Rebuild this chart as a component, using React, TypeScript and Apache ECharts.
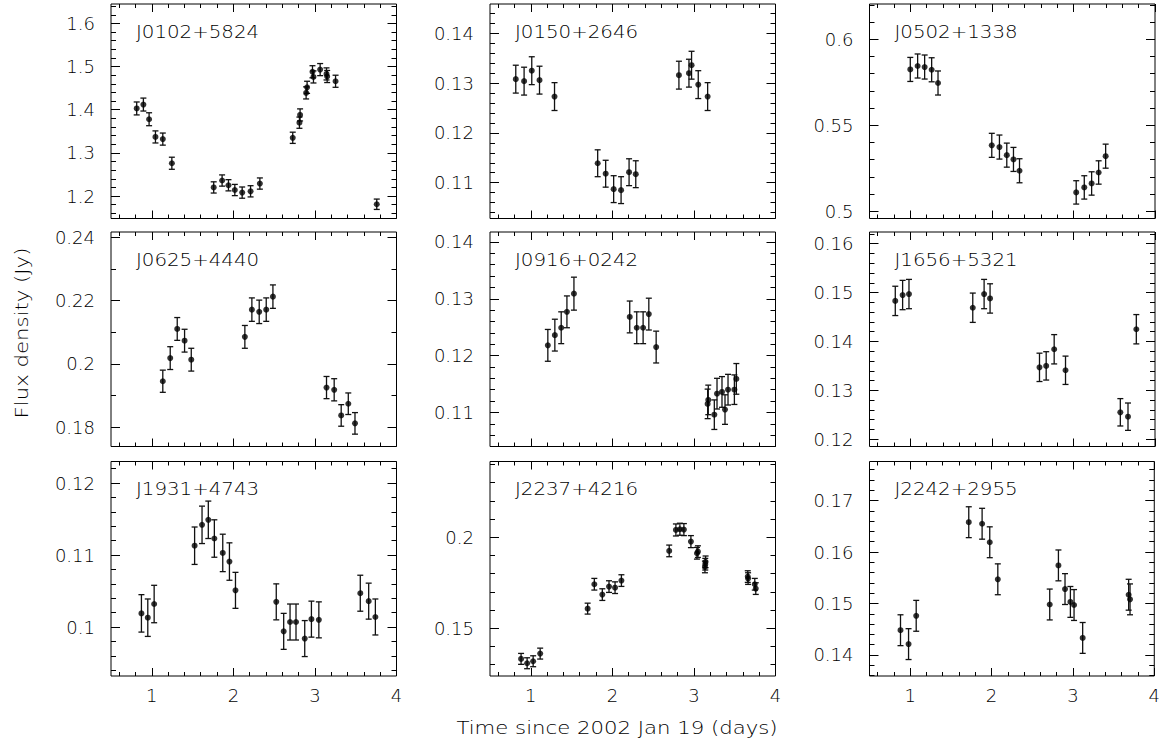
import React, { useEffect, useRef } from "react";
import * as echarts from "echarts";

// ---------- data ----------
const names = [
  "J0102+5824", "J0150+2646", "J0502+1338",
  "J0625+4440", "J0916+0242", "J1656+5321",
  "J1931+4743", "J2237+4216", "J2242+2955",
];

const xTicks = [1, 2, 3, 4];
const xRange = [0.5, 4];

const t0102 = [0.815, 0.897, 0.967, 1.045, 1.135, 1.246, 1.759, 1.862, 1.94, 2.018, 2.108, 2.211, 2.325, 2.728, 2.81, 2.818, 2.892, 2.904, 2.97, 2.982, 3.064, 3.142, 3.15, 3.253, 3.758];
const f0102 = [1.403, 1.412, 1.378, 1.337, 1.332, 1.276, 1.22, 1.236, 1.225, 1.214, 1.208, 1.211, 1.229, 1.335, 1.37, 1.388, 1.439, 1.452, 1.488, 1.476, 1.493, 1.483, 1.477, 1.466, 1.181];
const e0102 = [0.015, 0.015, 0.015, 0.014, 0.014, 0.014, 0.013, 0.013, 0.013, 0.013, 0.013, 0.013, 0.013, 0.013, 0.013, 0.014, 0.014, 0.014, 0.014, 0.014, 0.014, 0.014, 0.014, 0.014, 0.012];

const t0150 = [0.816, 0.918, 1.012, 1.107, 1.291, 1.82, 1.918, 2.016, 2.107, 2.205, 2.287, 2.816, 2.939, 2.971, 3.053, 3.168];
const f0150 = [0.1308, 0.1304, 0.1325, 0.1306, 0.1273, 0.1139, 0.1118, 0.1087, 0.1085, 0.1121, 0.1117, 0.1316, 0.132, 0.1336, 0.1297, 0.1273];
const e0150 = [0.0028, 0.0028, 0.0028, 0.0028, 0.0028, 0.0027, 0.0027, 0.0027, 0.0027, 0.0027, 0.0027, 0.0028, 0.0028, 0.0028, 0.0028, 0.0028];

const t0502 = [1.0, 1.09, 1.176, 1.262, 1.34, 1.999, 2.093, 2.183, 2.265, 2.339, 3.034, 3.133, 3.223, 3.309, 3.395];
const f0502 = [0.5825, 0.5845, 0.5839, 0.5823, 0.5746, 0.5383, 0.5373, 0.5326, 0.5301, 0.5235, 0.5109, 0.5138, 0.5161, 0.5225, 0.532];
const e0502 = [0.007, 0.007, 0.007, 0.007, 0.007, 0.007, 0.007, 0.007, 0.007, 0.007, 0.0068, 0.0068, 0.0068, 0.0068, 0.007];

const t0625 = [1.135, 1.226, 1.312, 1.402, 1.484, 2.141, 2.227, 2.317, 2.403, 2.485, 3.142, 3.236, 3.322, 3.409, 3.491];
const f0625 = [0.1945, 0.2018, 0.211, 0.2073, 0.2013, 0.2085, 0.2171, 0.2164, 0.2171, 0.2212, 0.1925, 0.1918, 0.1837, 0.1874, 0.1812];
const e0625 = [0.0035, 0.0036, 0.0036, 0.0036, 0.0036, 0.0036, 0.0037, 0.0037, 0.0037, 0.0037, 0.0035, 0.0035, 0.0034, 0.0034, 0.0034];

const t0916 = [1.209, 1.295, 1.373, 1.443, 1.529, 2.213, 2.299, 2.377, 2.447, 2.537, 3.168, 3.176, 3.25, 3.283, 3.344, 3.381, 3.418, 3.496, 3.52];
const f0916 = [0.1218, 0.1236, 0.1249, 0.1277, 0.1309, 0.1268, 0.1249, 0.1249, 0.1273, 0.1215, 0.1115, 0.1122, 0.1096, 0.1133, 0.1136, 0.1105, 0.114, 0.114, 0.1159];
const e0916 = [0.0028, 0.0028, 0.0028, 0.0028, 0.0029, 0.0028, 0.0028, 0.0028, 0.0028, 0.0028, 0.0026, 0.0026, 0.0026, 0.0027, 0.0027, 0.0026, 0.0027, 0.0026, 0.0027];

const t1656 = [0.816, 0.906, 0.984, 1.766, 1.905, 1.978, 2.584, 2.666, 2.764, 2.903, 3.575, 3.669, 3.771];
const f1656 = [0.1483, 0.1495, 0.1497, 0.1469, 0.1497, 0.1488, 0.1347, 0.135, 0.1384, 0.1341, 0.1255, 0.1246, 0.1425];
const e1656 = [0.003, 0.003, 0.003, 0.003, 0.003, 0.003, 0.0029, 0.0029, 0.003, 0.0029, 0.0028, 0.0028, 0.003];

const t1931 = [0.873, 0.951, 1.029, 1.525, 1.616, 1.693, 1.767, 1.87, 1.952, 2.026, 2.526, 2.617, 2.695, 2.768, 2.875, 2.957, 3.048, 3.556, 3.659, 3.741];
const f1931 = [0.1019, 0.1013, 0.1032, 0.1113, 0.1142, 0.1149, 0.1123, 0.1103, 0.1091, 0.1051, 0.1035, 0.0994, 0.1007, 0.1007, 0.0984, 0.1011, 0.101, 0.1047, 0.1036, 0.1014];
const e1931 = [0.0026, 0.0026, 0.0026, 0.0026, 0.0026, 0.0026, 0.0026, 0.0026, 0.0026, 0.0025, 0.0025, 0.0025, 0.0025, 0.0025, 0.0025, 0.0025, 0.0025, 0.0025, 0.0025, 0.0025];

const t2237 = [0.881, 0.955, 1.029, 1.115, 1.697, 1.779, 1.877, 1.959, 2.033, 2.111, 2.697, 2.779, 2.828, 2.877, 2.963, 3.037, 3.049, 3.135, 3.139, 3.143, 3.66, 3.664, 3.746, 3.758];
const f2237 = [0.1332, 0.1308, 0.1319, 0.1361, 0.1608, 0.1742, 0.1685, 0.1729, 0.1723, 0.1762, 0.1925, 0.204, 0.2044, 0.2042, 0.1976, 0.1912, 0.1921, 0.1837, 0.1852, 0.1865, 0.1784, 0.1773, 0.1742, 0.1718];
const e2237 = [0.003, 0.003, 0.003, 0.003, 0.003, 0.0032, 0.0032, 0.0032, 0.0032, 0.0032, 0.0032, 0.0033, 0.0033, 0.0033, 0.0033, 0.0032, 0.0032, 0.0032, 0.0032, 0.0032, 0.0032, 0.0032, 0.0032, 0.0032];

const t2242 = [0.881, 0.98, 1.074, 1.72, 1.884, 1.978, 2.077, 2.715, 2.822, 2.903, 2.969, 3.014, 3.12, 3.685, 3.702];
const f2242 = [0.1448, 0.1421, 0.1476, 0.1658, 0.1655, 0.1619, 0.1547, 0.1498, 0.1574, 0.1528, 0.1503, 0.1497, 0.1433, 0.1517, 0.1508];
const e2242 = [0.003, 0.003, 0.003, 0.003, 0.003, 0.003, 0.003, 0.003, 0.003, 0.003, 0.003, 0.003, 0.003, 0.003, 0.003];

const times = [t0102, t0150, t0502, t0625, t0916, t1656, t1931, t2237, t2242];
const fluxes = [f0102, f0150, f0502, f0625, f0916, f1656, f1931, f2237, f2242];
const errors = [e0102, e0150, e0502, e0625, e0916, e1656, e1931, e2237, e2242];

// y-axis limits and tick labels per panel
const yLimits = [
  [1.148, 1.645], [0.1028, 0.1459], [0.4957, 0.6206],
  [0.1739, 0.2416], [0.104, 0.14175], [0.1185, 0.1624],
  [0.0932, 0.123], [0.1238, 0.2416], [0.1359, 0.1776],
];
const yTickLabels = [
  [1.2, 1.3, 1.4, 1.5, 1.6], [0.11, 0.12, 0.13, 0.14], [0.5, 0.55, 0.6],
  [0.18, 0.2, 0.22, 0.24], [0.11, 0.12, 0.13, 0.14], [0.12, 0.13, 0.14, 0.15, 0.16],
  [0.1, 0.11, 0.12], [0.15, 0.2], [0.14, 0.15, 0.16, 0.17],
];
const yMinorStep = [0.02, 0.002, 0.01, 0.01, 0.002, 0.002, 0.002, 0.01, 0.002];
const xMinorStep = 0.2;

// ---------- layout ----------
const COL_LEFT = [111, 490, 869.5];
const ROW_TOP = [4, 232, 461.5];
const PW = 285.5;
const PH = 214.5;
const FONT = "DejaVu Sans";
const TXT = "#000";
const WEIGHT = 200;

function steps(lo: number, hi: number, step: number, skip: number[]): number[] {
  const out: number[] = [];
  const start = Math.ceil(lo / step - 1e-9);
  for (let k = start; k * step <= hi + 1e-12; k++) {
    const v = Math.round(k * step * 1e6) / 1e6;
    if (skip.some((s) => Math.abs(s - v) < 1e-9)) continue;
    out.push(v);
  }
  return out;
}

export default function App() {
  const ref = useRef<HTMLDivElement>(null);

  useEffect(() => {
    if (!ref.current) return;
    const chart = echarts.init(ref.current, null, { renderer: "svg" });

    const grid: any[] = [];
    const xAxis: any[] = [];
    const yAxis: any[] = [];
    const series: any[] = [];
    const graphic: any[] = [];

    const xMinor = steps(xRange[0], xRange[1], xMinorStep, xTicks);

    names.forEach((name, i) => {
      const r = Math.floor(i / 3);
      const c = i % 3;
      grid.push({
        left: COL_LEFT[c], top: ROW_TOP[r], width: PW, height: PH,
        show: true, borderColor: "#000", borderWidth: 1, backgroundColor: "transparent",
      });
      const [ymin, ymax] = yLimits[i];
      const yMinor = steps(ymin, ymax, yMinorStep[i], yTickLabels[i]);

      const labelStyle = { fontSize: 18, fontFamily: FONT, fontWeight: WEIGHT, color: TXT };
      const mkX = (position: string, ticks: number[], len: number, labels: boolean) => ({
        type: "value", gridIndex: i, min: xRange[0], max: xRange[1], position,
        axisLine: { show: false }, splitLine: { show: false },
        axisTick: { show: true, inside: true, length: len, customValues: ticks, lineStyle: { color: "#000", width: 1 } },
        axisLabel: labels
          ? { show: true, customValues: xTicks, margin: 10, ...labelStyle }
          : { show: false },
      });
      const mkY = (position: string, ticks: number[], len: number, labels: boolean) => ({
        type: "value", gridIndex: i, min: ymin, max: ymax, position,
        axisLine: { show: false }, splitLine: { show: false },
        axisTick: { show: true, inside: true, length: len, customValues: ticks, lineStyle: { color: "#000", width: 1 } },
        axisLabel: labels
          ? { show: true, customValues: yTickLabels[i], margin: 16, ...labelStyle }
          : { show: false },
      });
      xAxis.push(mkX("bottom", xTicks, 8, r === 2));
      xAxis.push(mkX("bottom", xMinor, 4, false));
      xAxis.push(mkX("top", xTicks, 8, false));
      xAxis.push(mkX("top", xMinor, 4, false));
      yAxis.push(mkY("left", yTickLabels[i], 9, true));
      yAxis.push(mkY("left", yMinor, 5, false));
      yAxis.push(mkY("right", yTickLabels[i], 9, false));
      yAxis.push(mkY("right", yMinor, 5, false));

      const t = times[i];
      const f = fluxes[i];
      const e = errors[i];
      const pts = t.map((tv, k) => [tv, f[k]]);
      const bars = t.map((tv, k) => [tv, f[k], e[k]]);

      series.push({
        type: "custom",
        xAxisIndex: 4 * i, yAxisIndex: 4 * i,
        data: bars,
        encode: { x: 0, y: 1 },
        z: 2,
        renderItem: (params: any, api: any) => {
          const x = api.value(0);
          const y = api.value(1);
          const er = api.value(2);
          const hi = api.coord([x, y + er]);
          const lo = api.coord([x, y - er]);
          const cap = 3;
          const style = { stroke: "#111", lineWidth: 1.3 };
          return {
            type: "group",
            children: [
              { type: "line", shape: { x1: hi[0], y1: hi[1], x2: lo[0], y2: lo[1] }, style },
              { type: "line", shape: { x1: hi[0] - cap, y1: hi[1], x2: hi[0] + cap, y2: hi[1] }, style },
              { type: "line", shape: { x1: lo[0] - cap, y1: lo[1], x2: lo[0] + cap, y2: lo[1] }, style },
            ],
          };
        },
      });
      series.push({
        type: "scatter",
        xAxisIndex: 4 * i, yAxisIndex: 4 * i,
        data: pts,
        symbol: "circle",
        symbolSize: 6,
        itemStyle: { color: "#000" },
        z: 3,
      });

      graphic.push({
        type: "text",
        x: COL_LEFT[c] + 25,
        y: ROW_TOP[r] + 27,
        scaleX: 1.1,
        style: { text: name, fontSize: 18, fontFamily: FONT, fontWeight: WEIGHT, fill: TXT, align: "left", verticalAlign: "middle" },
      });
    });

    graphic.push({
      type: "text",
      x: 617, y: 728,
      scaleX: 1.18,
      style: { text: "Time since 2002 Jan 19 (days)", fontSize: 18, fontFamily: FONT, fontWeight: WEIGHT, fill: TXT, align: "center", verticalAlign: "middle" },
    });
    graphic.push({
      type: "text",
      x: 22, y: 333,
      rotation: Math.PI / 2,
      scaleX: 1.18,
      style: { text: "Flux density (Jy)", fontSize: 18, fontFamily: FONT, fontWeight: WEIGHT, fill: TXT, align: "center", verticalAlign: "middle" },
    });

    chart.setOption({
      animation: false,
      backgroundColor: "#fff",
      grid, xAxis, yAxis, series, graphic,
    });

    return () => chart.dispose();
  }, []);

  return (
    <div
      ref={ref}
      style={{ position: "fixed", left: 0, top: 0, width: 1163, height: 755, background: "#fff" }}
    />
  );
}
